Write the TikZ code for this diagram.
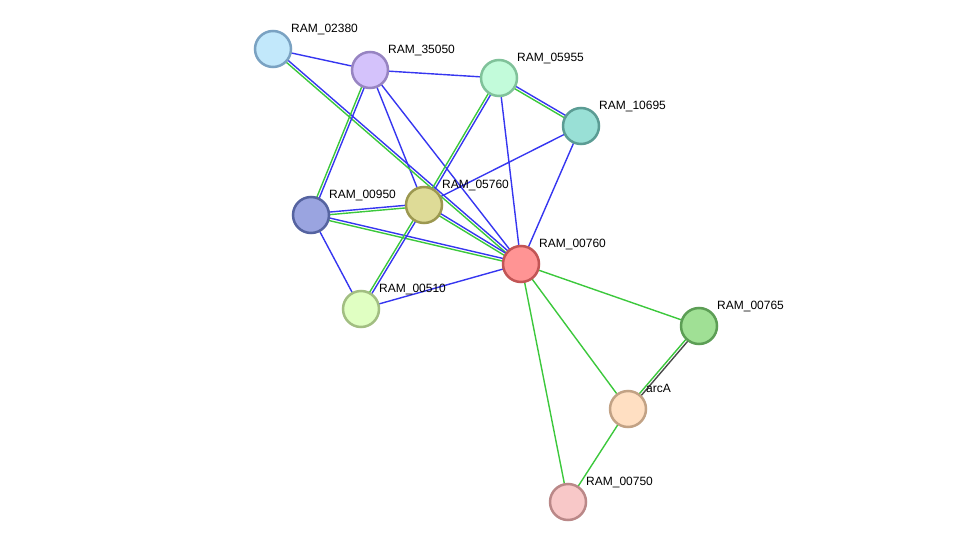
\documentclass[tikz,border=0pt]{standalone}
\usepackage{fontspec}
\setmainfont{Liberation Sans}
\usetikzlibrary{calc,backgrounds}

\definecolor{edgeblue}{HTML}{3636F0}
\definecolor{edgegreen}{HTML}{3CC83C}
\definecolor{edgedark}{HTML}{4A4A4A}

\begin{document}
\begin{tikzpicture}[x=1pt, y=-1pt,
    prot/.style={circle, draw, line width=2.5pt, minimum size=36pt, inner sep=0pt},
    lbl/.style={anchor=mid west, inner sep=0pt,
        font=\fontsize{12}{12}\selectfont},
    blueedge/.style={edgeblue, line width=1.4pt},
    greenedge/.style={edgegreen, line width=1.4pt},
    darkedge/.style={edgedark, line width=1.4pt},
]
\useasboundingbox (0,0) rectangle (976,548);

% Proteins
\node[prot, draw={rgb,255:red,122;green,162;blue,194}, fill={rgb,255:red,194;green,232;blue,251}] (n02380) at (273,49) {};
\node[prot, draw={rgb,255:red,151;green,132;blue,194}, fill={rgb,255:red,212;green,194;blue,251}] (n35050) at (370,70) {};
\node[prot, draw={rgb,255:red,128;green,194;blue,154}, fill={rgb,255:red,194;green,251;blue,218}] (n05955) at (499,78) {};
\node[prot, draw={rgb,255:red,91;green,156;blue,148}, fill={rgb,255:red,153;green,224;blue,214}] (n10695) at (581,126) {};
\node[prot, draw={rgb,255:red,85;green,99;blue,160}, fill={rgb,255:red,154;green,164;blue,224}] (n00950) at (311,215) {};
\node[prot, draw={rgb,255:red,156;green,152;blue,80}, fill={rgb,255:red,222;green,219;blue,151}] (n05760) at (424,205) {};
\node[prot, draw={rgb,255:red,194;green,85;blue,85}, fill={rgb,255:red,255;green,148;blue,148}] (n00760) at (521,264) {};
\node[prot, draw={rgb,255:red,162;green,190;blue,130}, fill={rgb,255:red,224;green,255;blue,194}] (n00510) at (361,309) {};
\node[prot, draw={rgb,255:red,92;green,158;blue,85}, fill={rgb,255:red,160;green,224;blue,149}] (n00765) at (699,326) {};
\node[prot, draw={rgb,255:red,194;green,162;blue,133}, fill={rgb,255:red,255;green,223;blue,194}] (narcA) at (628,409) {};
\node[prot, draw={rgb,255:red,186;green,136;blue,136}, fill={rgb,255:red,248;green,200;blue,200}] (n00750) at (568,502) {};

% Names
\foreach \n/\t in {n02380/RAM\_02380, n35050/RAM\_35050, n05955/RAM\_05955,
    n10695/RAM\_10695, n00950/RAM\_00950, n05760/RAM\_05760, n00760/RAM\_00760,
    n00510/RAM\_00510, n00765/RAM\_00765, narcA/arcA, n00750/RAM\_00750}
    \node[lbl] (l\n) at ($(\n.center)+(18,-19.5)$) {\t};

\begin{scope}[on background layer]
% single evidence links
\foreach \a/\b in {n02380/n35050, n35050/n05955, n35050/n05760, n35050/n00760,
    n05955/n00760, n10695/n05760, n10695/n00760, n00950/n00510, n00510/n00760}
    \draw[blueedge] (\a.center) -- (\b.center);
\foreach \a/\b in {n00760/n00765, n00760/narcA, n00760/n00750, narcA/n00750}
    \draw[greenedge] (\a.center) -- (\b.center);
% two evidence links
\foreach \a/\b in {n02380/n00760, n35050/n00950, n05955/n10695, n05955/n05760,
    n00950/n05760, n00950/n00760, n05760/n00760, n05760/n00510} {
    \draw[blueedge] ($(\a.center)!1.3pt!90:(\b.center)$) -- ($(\b.center)!1.3pt!-90:(\a.center)$);
    \draw[greenedge] ($(\a.center)!1.3pt!-90:(\b.center)$) -- ($(\b.center)!1.3pt!90:(\a.center)$);
}
\draw[darkedge] ($(n00765.center)!1.3pt!90:(narcA.center)$) -- ($(narcA.center)!1.3pt!-90:(n00765.center)$);
\draw[greenedge] ($(n00765.center)!1.3pt!-90:(narcA.center)$) -- ($(narcA.center)!1.3pt!90:(n00765.center)$);
\end{scope}

\end{tikzpicture}
\end{document}
